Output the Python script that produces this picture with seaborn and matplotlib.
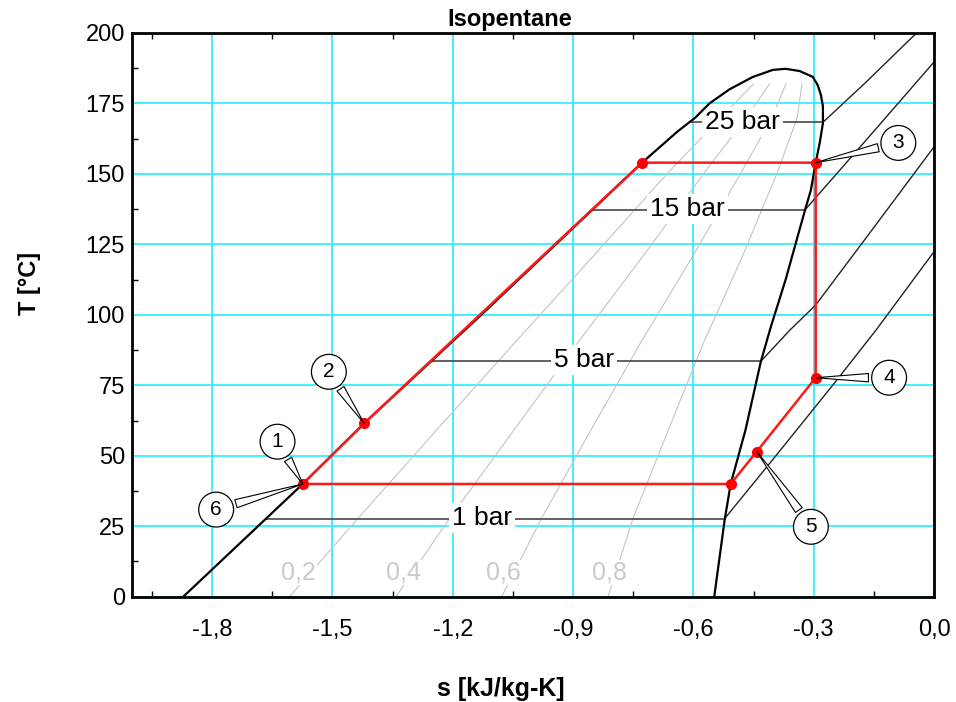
import matplotlib
matplotlib.use('Agg')
import matplotlib.pyplot as plt
import matplotlib.font_manager as fm
import numpy as np
import seaborn as sns
from matplotlib.ticker import FuncFormatter, FixedLocator

# saturation dome, liquid side (T in C, s in kJ/kg-K)
T_liq = [0, 40, 61.5, 100, 130, 154, 165, 170, 175, 180, 184.4, 186.9]
s_liq = [-1.872, -1.574, -1.421, -1.129, -0.906, -0.728, -0.64, -0.595, -0.56, -0.51, -0.452, -0.402]
# vapour side, from the top down
T_vap = [187.3, 186.5, 184.4, 181.5, 178, 174, 168, 161, 154, 144.3, 137, 112.5, 95.7, 83.3, 59.2, 40, 27.3, 0]
s_vap = [-0.37, -0.335, -0.302, -0.29, -0.282, -0.277, -0.277, -0.285, -0.295, -0.307, -0.322, -0.370, -0.407,
         -0.432, -0.470, -0.507, -0.522, -0.548]

# lines of constant quality
T_q = [0, 28, 60, 90, 120, 150, 170, 182]
q_labels = ['0,2', '0,4', '0,6', '0,8']
s_q02 = [-1.607, -1.435, -1.235, -1.046, -0.855, -0.666, -0.531, -0.450]
s_q04 = [-1.342, -1.207, -1.043, -0.889, -0.730, -0.575, -0.468, -0.410]
s_q06 = [-1.078, -0.978, -0.852, -0.732, -0.605, -0.483, -0.404, -0.369]
s_q08 = [-0.813, -0.750, -0.660, -0.575, -0.480, -0.392, -0.341, -0.329]

# isobars: saturation part + superheated part
p_labels = ['1 bar', '5 bar', '15 bar', '25 bar']
T_sat = [27.7, 83.5, 137.2, 168.3]
s_f = [-1.666, -1.252, -0.853, -0.605]
s_g = [-0.522, -0.432, -0.322, -0.277]
s_sh_1 = [-0.522, -0.40, -0.25, -0.144, 0.0]
T_sh_1 = [27.7, 49.0, 75.5, 94.7, 122.4]
s_sh_5 = [-0.432, -0.36, -0.295, -0.15, 0.0]
T_sh_5 = [83.5, 94.5, 103.5, 131.0, 159.6]
s_sh_15 = [-0.322, -0.16, 0.0]
T_sh_15 = [137.2, 163.5, 189.7]
s_sh_25 = [-0.277, -0.17, -0.04]
T_sh_25 = [168.3, 182.5, 200.5]

# ORC cycle states
s_cycle = [-1.574, -1.421, -0.728, -0.295, -0.295, -0.442, -0.507, -1.574]
T_cycle = [40.0, 61.5, 154.0, 154.0, 77.7, 51.5, 40.0, 40.0]
state_names = ['1', '2', '3', '4', '5', '6']
state_idx = [0, 1, 3, 4, 5, 0]

sns.set_style('white')
fams = [f.name for f in fm.fontManager.ttflist]
narrow = 'Liberation Sans Narrow' if 'Liberation Sans Narrow' in fams else 'Liberation Sans'
plt.rcParams['font.family'] = ['Liberation Sans', 'DejaVu Sans']
for k in ['text.color', 'axes.labelcolor', 'xtick.color', 'ytick.color']:
    plt.rcParams[k] = 'black'

fig, ax = plt.subplots(figsize=(9.56, 7.02), dpi=100)
fig.subplots_adjust(left=0.138, right=0.977, bottom=0.150, top=0.953)

# quality lines
for lab, sq in zip(q_labels, [s_q02, s_q04, s_q06, s_q08]):
    sns.lineplot(x=sq, y=T_q, sort=False, estimator=None, color='#c4c4c4', lw=0.8, ax=ax, zorder=1)
q_lab_s = [-1.584, -1.323, -1.073, -0.810]
for lab, xs in zip(q_labels, q_lab_s):
    ax.text(xs, 8.5, lab, fontsize=18, color='#cacaca', ha='center', va='center', zorder=2,
            bbox=dict(facecolor='white', edgecolor='none', pad=0.5))

# isobars
sh = [(s_sh_1, T_sh_1), (s_sh_5, T_sh_5), (s_sh_15, T_sh_15), (s_sh_25, T_sh_25)]
lab_pos = [(-1.128, 28.0), (-0.873, 84.0), (-0.615, 137.6), (-0.477, 168.5)]
for i in range(4):
    sns.lineplot(x=[s_f[i], s_g[i]], y=[T_sat[i], T_sat[i]], sort=False, estimator=None,
                 color='#555555', lw=1.3, ax=ax, zorder=2)
    sns.lineplot(x=sh[i][0], y=sh[i][1], sort=False, estimator=None, color='#222222', lw=1.0, ax=ax, zorder=2)
    ax.text(lab_pos[i][0], lab_pos[i][1], p_labels[i], fontsize=19, ha='center', va='center', zorder=3,
            bbox=dict(facecolor='white', edgecolor='none', pad=2))

# saturation dome
sns.lineplot(x=s_liq + s_vap, y=T_liq + T_vap, sort=False, estimator=None, color='black', lw=1.6, ax=ax, zorder=4)

# cycle
sns.lineplot(x=s_cycle, y=T_cycle, sort=False, estimator=None, color='#ff1a1a', lw=1.8, ax=ax, zorder=5)
ax.plot(s_cycle[:-1], T_cycle[:-1], 'o', color='red', ms=7, zorder=6)

circle_pos = [(-1.637, 55.0), (-1.509, 79.8), (-0.089, 161.0), (-0.112, 77.7), (-0.307, 24.8), (-1.790, 30.9)]
for name, idx, pos in zip(state_names, state_idx, circle_pos):
    ax.annotate(name, xy=(s_cycle[idx], T_cycle[idx]), xytext=pos, fontsize=15, ha='center', va='center',
                zorder=7,
                bbox=dict(boxstyle='circle,pad=0.38', fc='white', ec='black', lw=0.9),
                arrowprops=dict(arrowstyle='wedge,tail_width=0.4,shrink_factor=0.5', fc='white', ec='black',
                                lw=0.8, shrinkB=0))

ax.set_xlim(-2.0, 0.0)
ax.set_ylim(0, 200)
xt = [-1.8, -1.5, -1.2, -0.9, -0.6, -0.3, 0.0]
ax.xaxis.set_major_locator(FixedLocator(xt))
ax.xaxis.set_minor_locator(FixedLocator([-1.95, -1.65, -1.35, -1.05, -0.75, -0.45, -0.15]))
ax.yaxis.set_major_locator(FixedLocator(list(range(0, 201, 25))))
ax.yaxis.set_minor_locator(FixedLocator([12.5 + 25 * k for k in range(8)]))
ax.xaxis.set_major_formatter(FuncFormatter(lambda v, p: ('%.1f' % v).replace('.', ',')))
ax.yaxis.set_major_formatter(FuncFormatter(lambda v, p: '%d' % v))

ax.grid(True, which='major', color='#22eeff', lw=1.2)
ax.set_axisbelow(True)
ax.tick_params(which='major', length=0, labelsize=17, labelcolor='black')
ax.tick_params(axis='x', which='major', pad=16)
ax.tick_params(axis='y', which='major', pad=5)
ax.tick_params(which='minor', direction='in', length=4, width=1, color='black', top=True, bottom=True, left=True)
for lab in ax.get_xticklabels():
    lab.set_family(narrow)
for sp in ax.spines.values():
    sp.set_color('black')
    sp.set_linewidth(2)

ax.set_title('Isopentane', fontsize=17, fontweight='bold', x=0.471, pad=5, color='black')
ax.set_xlabel('s [kJ/kg-K]', fontsize=18, fontweight='bold', color='black')
ax.set_ylabel('T [°C]', fontsize=17, fontweight='bold', color='black')
ax.xaxis.set_label_coords(0.46, -0.142)
ax.yaxis.set_label_coords(-0.113, 0.555)

fig.savefig('out.png', dpi=100)
